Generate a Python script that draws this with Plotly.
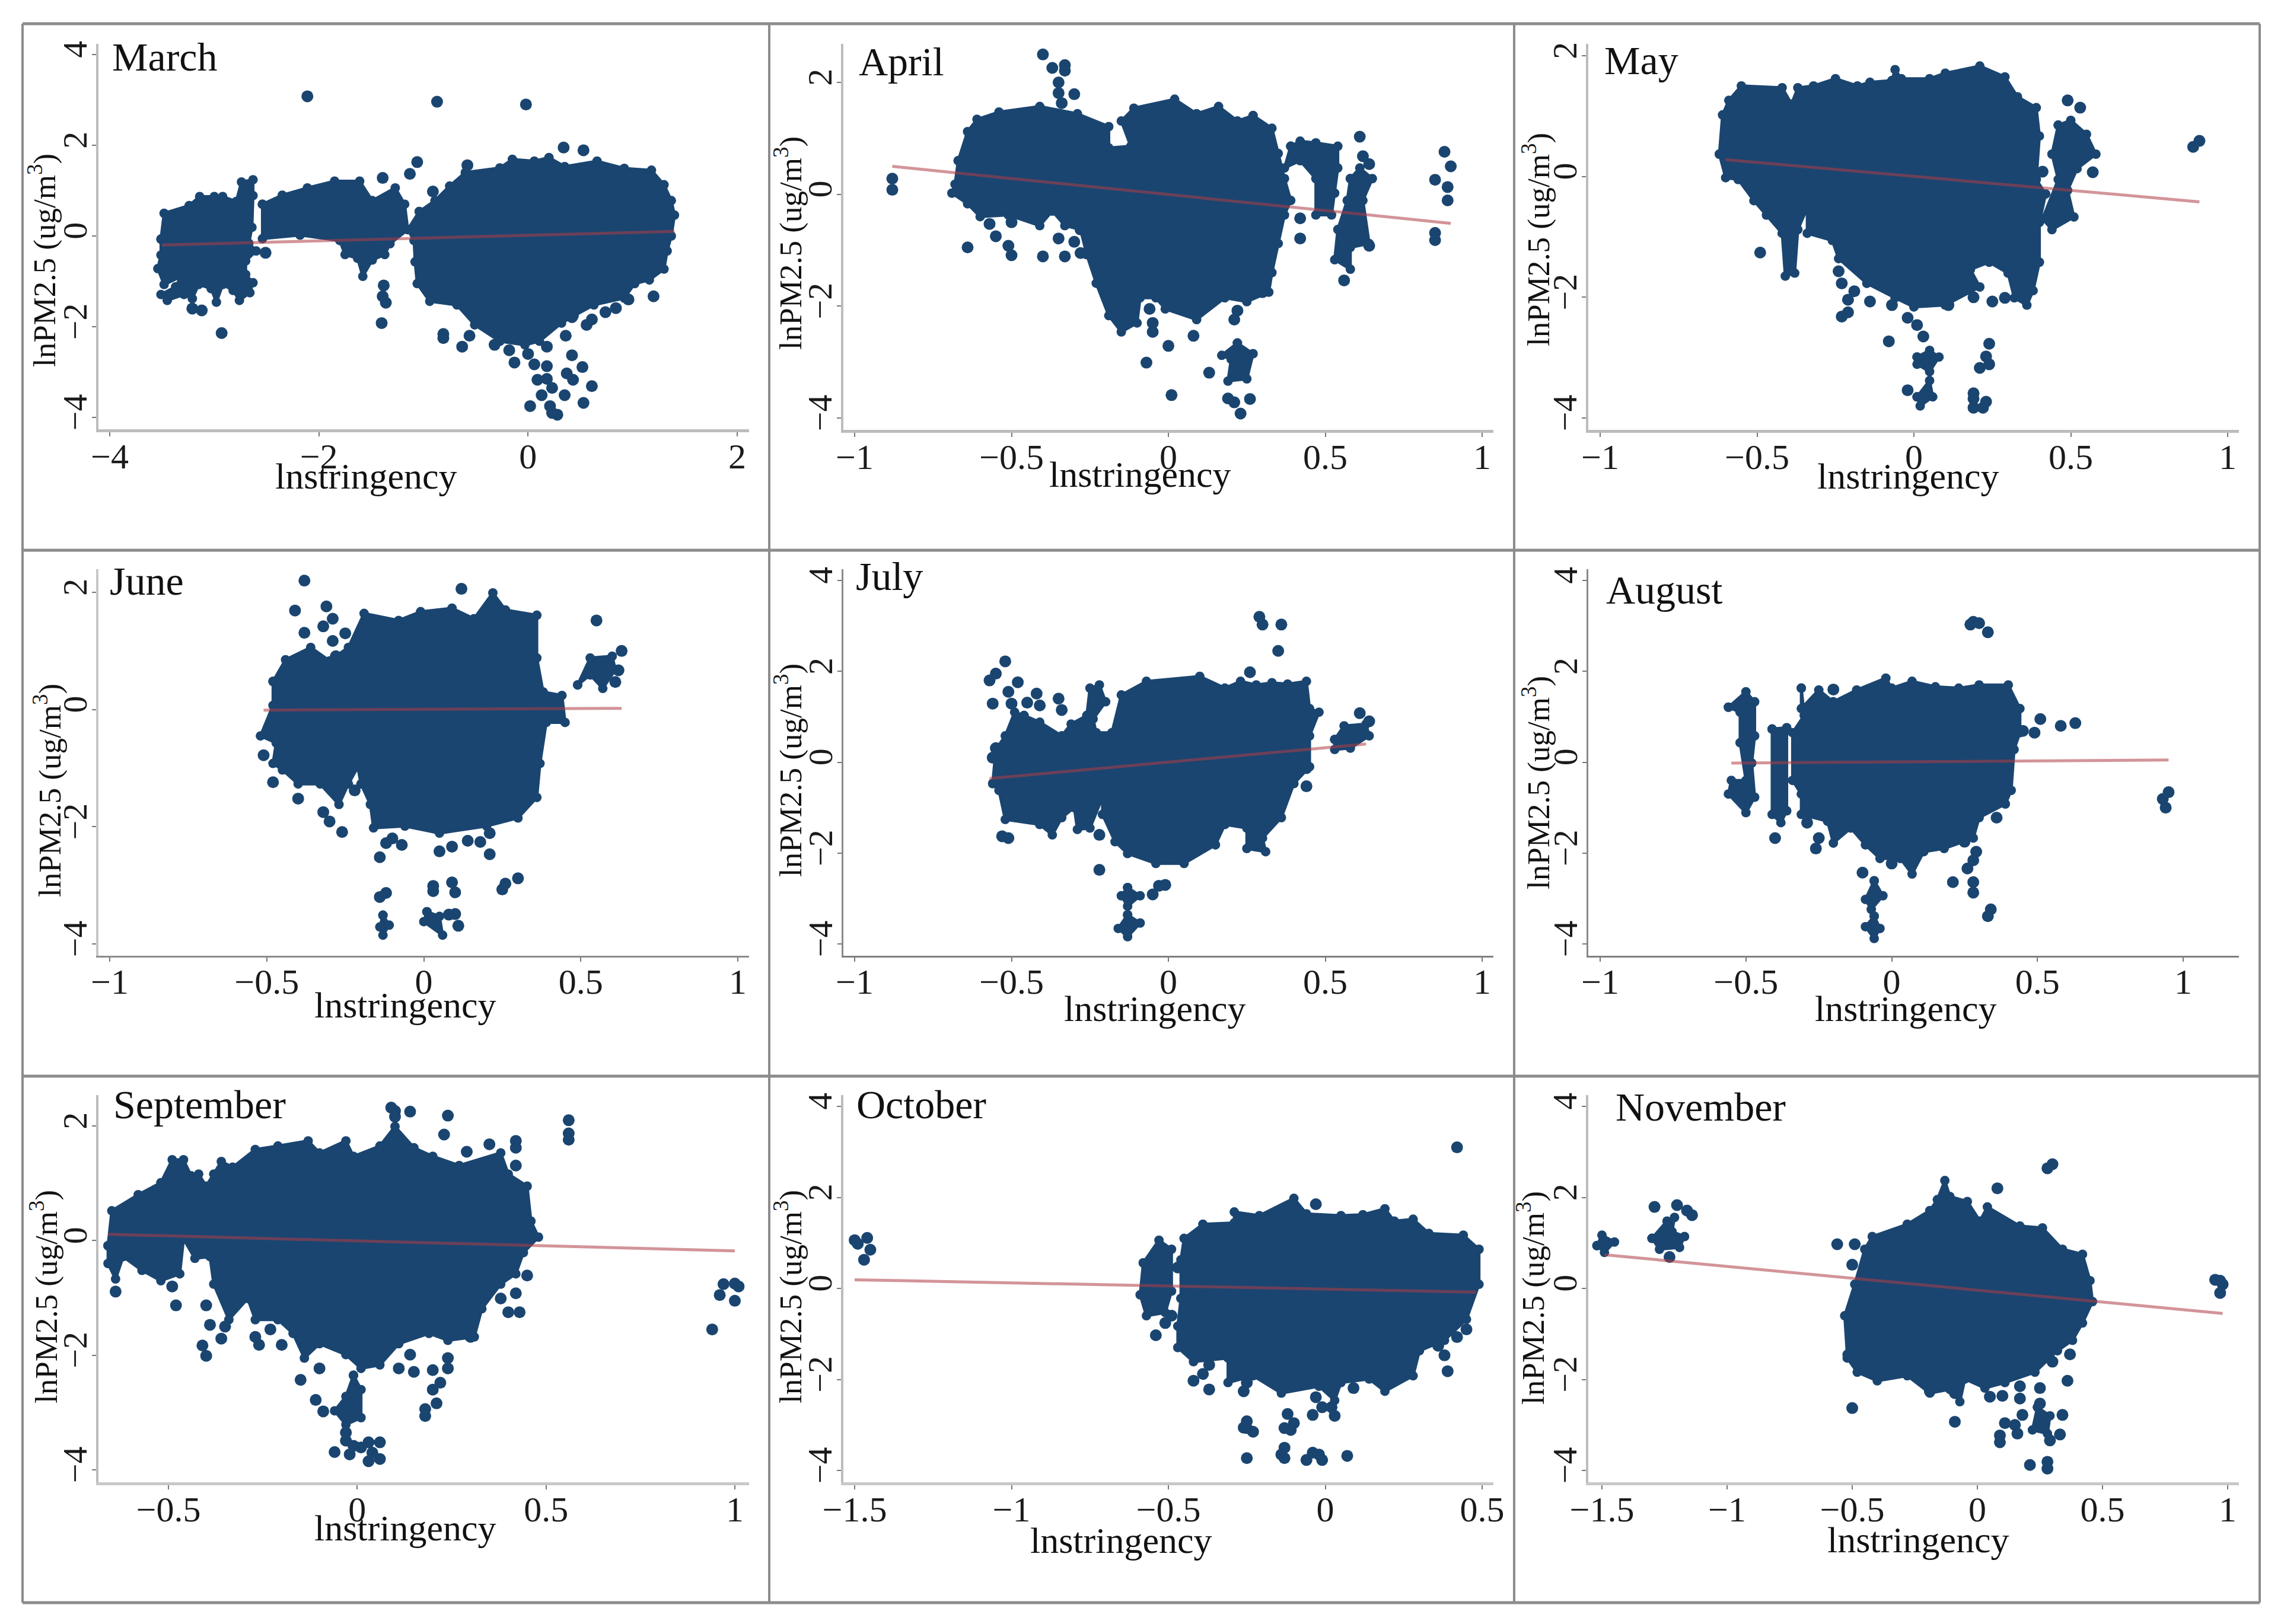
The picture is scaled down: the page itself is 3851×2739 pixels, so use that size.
import plotly.graph_objects as go

W, H = 3851, 2739
MONTHS = ["March", "April", "May", "June", "July", "August", "September", "October", "November"]
X_TITLE = "lnstringency"
Y_TITLE = "lnPM2.5 (ug/m<sup>3</sup>)"

x_ticks_march = [-4, -2, 0, 2]
x_ticks_wide = [-1, -0.5, 0, 0.5, 1]
x_ticks_sept = [-0.5, 0, 0.5, 1]
x_ticks_oct = [-1.5, -1, -0.5, 0, 0.5]
x_ticks_nov = [-1.5, -1, -0.5, 0, 0.5, 1]
y_ticks_full = [-4, -2, 0, 2, 4]
y_ticks_short = [-4, -2, 0, 2]

# ---- values: dense regions as outlines, sparse points as dots, fit line ends
march_lobes = [
    [(-1.04,.54),(-.89,.78),(-.75,1.1),(-.6,1.4),(-.27,1.5),(-.15,1.69),(.06,1.65),(.2,1.73),(.35,1.53),(.66,1.65),(.92,1.49),(1.18,1.45),(1.3,1.13),(1.37,.78),(1.4,.46),(1.37,0),(1.33,-.33),(1.3,-.73),(1.16,-.97),(1.02,-1.05),(.92,-1.37),(.63,-1.52),(.44,-1.76),(.32,-1.92),(.11,-2.32),(-.03,-2.4),(-.27,-2.32),(-.51,-1.96),(-.68,-1.52),(-.94,-1.44),(-1.06,-1.05),(-1.08,-.57),(-1.09,-.1),(-1.15,.14)],
    [(-3.51,-.07),(-3.48,.5),(-3.24,.67),(-3.14,.87),(-3.0,.87),(-2.92,.87),(-2.79,.76),(-2.74,1.19),(-2.63,1.24),(-2.63,.89),(-2.64,.19),(-2.67,-.16),(-2.6,-.33),(-2.7,-.55),(-2.7,-.85),(-2.63,-1.03),(-2.66,-1.25),(-2.76,-1.42),(-2.82,-1.2),(-2.92,-1.07),(-2.98,-1.46),(-3.03,-1.16),(-3.15,-1.07),(-3.21,-1.38),(-3.29,-1.29),(-3.45,-1.42),(-3.51,-1.29),(-3.37,-1.12),(-3.32,-.9),(-3.48,-1.07),(-3.54,-.72),(-3.51,-.42)],
    [(-2.54,.7),(-2.35,.9),(-2.11,1.06),(-1.85,1.21),(-1.61,1.21),(-1.49,.78),(-1.27,1.06),(-1.18,.7),(-1.15,.14),(-1.32,-.17),(-1.37,-.41),(-1.49,-.53),(-1.58,-.89),(-1.63,-.49),(-1.75,-.41),(-1.8,-.1),(-2.18,.02),(-2.54,-.06)],
]
march_dots = [(-2.11,3.08),(-.87,2.96),(-.02,2.9),(.34,1.95),(.53,1.89),(-1.06,1.63),(-1.13,1.37),(-.91,.98),(-.58,1.56),(-1.39,1.28),(-2.51,-.37),(-2.93,-2.14),(-3.21,-1.6),(-3.12,-1.64),(-1.4,-1.92),(-1.38,-1.09),(-1.36,-1.47),(-1.39,-1.33),(-.81,-2.16),(-.81,-2.25),(-.63,-2.44),(-.13,-2.79),(.02,-3.75),(.53,-3.68),(.61,-3.31),(.35,-3.51),(.28,-3.94),(.23,-3.35),(.09,-3.17),(.18,-3.15),(.13,-3.51),(.21,-3.75),(.23,-3.9),(.18,-2.87),(.06,-2.83),(0,-2.6),(.42,-2.63),(.52,-2.89),(.37,-3.03),(.43,-3.17),(1.2,-1.33),(.96,-1.4),(.74,-1.68),(.84,-1.59),(.42,-1.79),(.56,-1.96),(.61,-1.84),(.36,-2.2),(.18,-2.44),(-.18,-2.52),(-.32,-2.4),(-.56,-2.2)]
march_fit = [(-3.5,-.2),(1.4,.1)]

april_lobes = [
    [(-.67,.6),(-.64,1.12),(-.61,1.34),(-.54,1.47),(-.41,1.57),(-.29,1.44),(-.19,1.21),(-.19,.83),(-.12,.86),(-.15,1.31),(-.11,1.54),(.02,1.7),(.09,1.44),(.16,1.57),(.22,1.31),(.27,1.41),(.33,1.18),(.35,.73),(.37,.28),(.39,-.11),(.37,-.37),(.35,-.88),(.33,-1.4),(.32,-1.75),(.25,-1.92),(.18,-1.85),(.09,-2.24),(-.01,-2.05),(-.04,-1.85),(-.09,-1.85),(-.1,-2.3),(-.15,-2.46),(-.19,-2.17),(-.23,-1.59),(-.26,-1.08),(-.28,-.63),(-.33,-.56),(-.37,-.3),(-.41,-.56),(-.51,-.37),(-.6,-.4),(-.64,-.17),(-.69,.02),(-.68,.18)],
    [(.39,.86),(.42,.95),(.47,.92),(.54,.86),(.54,.47),(.53,.02),(.52,-.37),(.47,-.37),(.47,.28),(.42,.6),(.37,.47)],
    [(.58,.28),(.61,.47),(.65,.28),(.62,-.11),(.64,-.88),(.58,-.95),(.58,-1.34),(.53,-1.17),(.54,-.63),(.57,-.11)],
    [(.22,-2.66),(.27,-2.85),(.25,-3.3),(.19,-3.34),(.2,-2.95),(.17,-2.88)],
]
april_dots = [(-.88,.28),(-.88,.08),(-.4,2.5),(-.37,2.26),(-.33,2.31),(-.33,2.21),(-.35,2.0),(-.35,1.81),(-.3,1.79),(-.34,1.63),(-.57,-.53),(-.55,-.75),(-.51,-.92),(-.5,-1.09),(-.64,-.95),(-.4,-1.11),(-.33,-1.11),(-.35,-.79),(-.3,-.85),(-.28,-.63),(-.28,-1.05),(-.5,-.5),(-.06,-2.05),(-.05,-2.3),(-.05,-2.46),(.08,-2.53),(0,-2.71),(-.07,-3.01),(.01,-3.59),(.13,-3.19),(.19,-3.65),(.21,-3.72),(.23,-3.92),(.26,-3.66),(.22,-2.08),(.21,-2.24),(.42,-.43),(.42,-.79),(.61,1.03),(.62,.68),(.64,.54),(.88,.76),(.9,.5),(.85,.26),(.89,.13),(.89,-.11),(.85,-.69),(.85,-.82),(.64,-.92),(.56,-1.54),(.3,-1.75)]
april_fit = [(-.88,.5),(.9,-.52)]

may_lobes = [
    [(-.62,.37),(-.61,1.02),(-.59,1.26),(-.55,1.5),(-.42,1.47),(-.39,1.2),(-.37,1.47),(-.32,1.5),(-.25,1.62),(-.18,1.5),(-.14,1.56),(-.07,1.59),(-.06,1.77),(-.04,1.62),(.05,1.62),(.1,1.71),(.21,1.83),(.29,1.65),(.33,1.32),(.39,1.14),(.4,.67),(.39,-.05),(.42,-.29),(.4,-.76),(.4,-1.42),(.38,-1.89),(.36,-2.13),(.32,-2.01),(.3,-1.6),(.24,-1.42),(.18,-1.54),(.21,-1.83),(.1,-2.13),(0,-2.16),(-.06,-2.01),(-.15,-1.77),(-.24,-1.36),(-.26,-1.06),(-.34,-.94),(-.34,-.52),(-.37,-.88),(-.38,-1.6),(-.41,-1.65),(-.42,-.94),(-.47,-.64),(-.51,-.4),(-.56,-.05),(-.6,-.02)],
    [(.46,.85),(.5,.93),(.55,.7),(.58,.37),(.52,.13),(.49,-.23),(.51,-.67),(.44,-.88),(.41,-.7),(.46,-.05),(.44,.37)],
    [(.01,-2.99),(.05,-2.88),(.08,-2.99),(.05,-3.23),(.01,-3.11)],
    [(.01,-3.65),(.05,-3.38),(.06,-3.65),(.02,-3.8)],
]
may_dots = [(.49,1.26),(.53,1.14),(.41,.08),(.57,.07),(.91,.59),(.89,.49),(-.49,-1.26),(-.24,-1.57),(-.23,-1.77),(-.21,-2.04),(-.19,-1.9),(-.21,-2.25),(-.23,-2.32),(-.14,-2.07),(-.07,-2.13),(.11,-2.13),(.19,-2.0),(.25,-2.07),(.29,-2.01),(-.02,-2.34),(.01,-2.46),(.03,-2.65),(-.08,-2.73),(.24,-2.77),(.23,-2.98),(.24,-3.11),(.21,-3.17),(-.02,-3.54),(.19,-3.83),(.19,-3.59),(.22,-3.83),(.23,-3.73),(.19,-3.68)]
may_fit = [(-.6,.28),(.91,-.42)]

june_lobes = [
    [(-.48,.48),(-.44,.85),(-.36,1.06),(-.3,.83),(-.24,1.06),(-.19,1.64),(-.08,1.52),(-.01,1.67),(.09,1.73),(.16,1.55),(.22,1.99),(.26,1.7),(.36,1.61),(.36,.88),(.38,.3),(.44,.24),(.45,-.22),(.39,-.22),(.37,-.92),(.36,-1.5),(.3,-1.85),(.2,-1.99),(.05,-2.11),(-.06,-1.99),(-.16,-2.02),(-.17,-1.62),(-.2,-1.27),(-.21,-.98),(-.24,-1.27),(-.27,-1.62),(-.33,-1.27),(-.4,-1.27),(-.45,-1.03),(-.48,-.92),(-.47,-.57),(-.52,-.45),(-.48,.07)],
    [(.49,.42),(.53,.88),(.6,.91),(.61,.68),(.57,.36),(.53,.59)],
    [(-.13,-3.51),(-.11,-3.68),(-.13,-3.85),(-.14,-3.71)],
    [(.01,-3.45),(.05,-3.53),(.06,-3.85),(0,-3.62)],
]
june_dots = [(-.38,2.2),(-.41,1.69),(-.31,1.76),(-.32,1.42),(-.29,1.55),(-.38,1.31),(-.25,1.3),(-.29,1.17),(-.28,.91),(-.51,-.78),(-.48,-1.24),(-.4,-1.52),(-.22,-1.38),(-.32,-1.75),(-.3,-1.91),(-.26,-2.09),(-.12,-2.28),(-.1,-2.2),(-.07,-2.31),(-.14,-2.52),(.05,-2.42),(.09,-2.34),(.14,-2.24),(.18,-2.26),(.21,-2.11),(.21,-2.47),(.3,-2.88),(.25,-3.07),(.26,-2.97),(.03,-3.01),(.03,-3.1),(.09,-2.95),(.1,-3.12),(-.12,-3.13),(-.14,-3.2),(.12,2.06),(.55,1.52),(.63,1.0),(.61,.47),(.62,.67),(.1,-3.49),(.11,-3.69),(.08,-3.5)]
june_fit = [(-.51,-.01),(.63,.02)]

july_lobes = [
    [(-.56,-.47),(-.55,.28),(-.52,.58),(-.49,1.1),(-.46,1.03),(-.41,.88),(-.34,.58),(-.31,.84),(-.26,1.03),(-.25,1.63),(-.22,1.7),(-.2,1.33),(-.24,.95),(-.23,.65),(-.18,.65),(-.15,1.48),(-.07,1.78),(.1,1.89),(.18,1.63),(.23,1.78),(.28,1.7),(.33,1.75),(.38,1.72),(.44,1.78),(.45,1.18),(.48,1.1),(.45,.58),(.45,-.1),(.4,-.47),(.36,-1.22),(.3,-1.67),(.31,-1.97),(.25,-1.9),(.25,-1.45),(.18,-1.37),(.15,-1.82),(.05,-2.23),(-.04,-2.23),(-.13,-2.01),(-.17,-1.75),(-.21,-1.15),(-.21,-.77),(-.25,-1.45),(-.29,-1.48),(-.3,-1.0),(-.34,-1.22),(-.37,-1.6),(-.41,-1.37),(-.52,-1.26),(-.54,-.62)],
    [(.53,.5),(.56,.8),(.63,.84),(.64,.58),(.58,.31),(.53,.28)],
    [(-.13,-2.76),(-.09,-2.94),(-.13,-3.17),(-.15,-2.94)],
    [(-.13,-3.36),(-.09,-3.54),(-.13,-3.84),(-.16,-3.66)],
]
july_dots = [(-.52,2.22),(-.55,1.95),(-.57,1.8),(-.48,1.76),(-.51,1.55),(-.56,1.29),(-.5,1.29),(-.45,1.31),(-.42,1.51),(-.41,1.25),(-.35,1.4),(-.34,1.15),(-.55,.31),(-.56,.1),(-.53,-1.63),(-.51,-1.67),(.29,3.2),(.3,3.03),(.36,3.03),(.35,2.45),(.26,1.98),(-.22,-2.37),(.44,-.13),(.44,-.53),(-.22,-1.6),(-.01,-2.7),(-.05,-2.91),(-.03,-2.72),(.61,1.08),(.64,.9)]
july_fit = [(-.57,-.36),(.63,.4)]

august_lobes = [
    [(-.31,1.63),(-.31,1.18),(-.25,1.59),(-.2,1.33),(-.12,1.59),(-.02,1.85),(0,1.63),(.07,1.78),(.15,1.66),(.23,1.63),(.3,1.7),(.4,1.7),(.44,1.18),(.44,.65),(.42,.28),(.41,-.62),(.39,-.92),(.3,-1.22),(.28,-1.67),(.18,-1.9),(.11,-1.97),(.07,-2.46),(.03,-2.12),(-.04,-2.12),(-.09,-1.82),(-.14,-1.45),(-.2,-1.78),(-.22,-1.3),(-.31,-1.15),(-.31,-.7),(-.34,-.4),(-.34,.65),(-.3,1.03)],
    [(-.41,.73),(-.36,.76),(-.36,-1.07),(-.38,-1.33),(-.41,-1.15)],
    [(-.56,1.21),(-.5,1.55),(-.47,1.33),(-.47,.58),(-.48,-.02),(-.47,-.77),(-.5,-1.11),(-.56,-.7),(-.55,-.4),(-.5,-.4),(-.52,.43),(-.52,1.1)],
    [(-.06,-2.61),(-.03,-2.94),(-.07,-3.24),(-.09,-3.02)],
    [(-.06,-3.39),(-.04,-3.66),(-.06,-3.88),(-.09,-3.62)],
]
august_dots = [(.51,.95),(.49,.65),(.45,.69),(.58,.8),(.63,.86),(-.2,1.6),(-.4,-1.67),(-.29,-1.33),(-.25,-1.67),(-.26,-1.9),(.36,-1.22),(.25,-1.75),(.29,-1.97),(.28,-2.16),(.26,-2.34),(0,-2.23),(-.1,-2.43),(.21,-2.64),(.28,-2.64),(.28,-2.87),(.34,-3.24),(.33,-3.39),(.28,3.09),(.27,3.03),(.3,3.06),(.33,2.86),(.95,-.66),(.93,-.81),(.94,-1.0)]
august_fit = [(-.55,-.02),(.95,.05)]

september_lobes = [
    [(-.66,-.09),(-.65,.52),(-.58,.8),(-.52,1.01),(-.49,1.41),(-.46,1.41),(-.44,1.13),(-.42,1.16),(-.4,.95),(-.38,1.16),(-.36,1.38),(-.33,1.28),(-.27,1.59),(-.21,1.65),(-.13,1.74),(-.1,1.53),(-.03,1.74),(-.01,1.47),(.06,1.65),(.1,1.99),(.15,1.62),(.2,1.47),(.27,1.31),(.38,1.53),(.4,1.16),(.45,.95),(.46,.34),(.48,.06),(.44,-.21),(.42,-.58),(.38,-.76),(.33,-1.19),(.31,-1.68),(.24,-1.74),(.19,-1.62),(.11,-1.8),(.06,-2.17),(.01,-2.23),(-.03,-1.99),(-.1,-1.8),(-.14,-2.05),(-.17,-1.62),(-.21,-1.38),(-.27,-1.38),(-.29,-1.01),(-.34,-1.38),(-.38,-.76),(-.39,-.28),(-.43,-.31),(-.46,.03),(-.47,-.58),(-.52,-.7),(-.57,-.52),(-.62,-.28),(-.64,-.67),(-.66,-.4)],
    [(-.01,-2.35),(.01,-2.6),(.01,-3.09),(-.03,-3.21),(-.06,-2.97),(-.03,-2.72)],
]
september_dots = [(-.64,-.89),(-.48,-1.13),(-.49,-.8),(-.4,-1.13),(-.39,-1.47),(-.36,-1.71),(-.35,-1.5),(-.41,-1.83),(-.4,-2.01),(-.27,-1.68),(-.26,-1.82),(-.23,-1.55),(-.2,-1.82),(-.15,-2.43),(-.1,-2.23),(-.11,-2.78),(-.09,-2.98),(.1,2.26),(.14,2.25),(.1,2.16),(.09,2.32),(.24,2.18),(.23,1.85),(.29,1.55),(.35,1.68),(.42,1.74),(.42,1.62),(.42,1.31),(.56,2.1),(.56,1.87),(.56,1.76),(.45,-.61),(.38,-1.01),(.42,-.92),(.43,-1.25),(.4,-1.25),(.3,-1.68),(.11,-2.23),(.14,-1.99),(.15,-2.29),(.2,-2.26),(.24,-2.23),(.24,-2.05),(.22,-2.48),(.2,-2.6),(.21,-2.84),(.18,-3.06),(.18,-2.94),(.96,-.95),(.97,-.76),(1.0,-.75),(1.01,-.8),(1.0,-1.05),(.94,-1.55),(-.06,-3.69),(-.03,-3.35),(-.03,-3.49),(-.02,-3.73),(.03,-3.85),(.06,-3.81),(.03,-3.52),(.06,-3.52),(.01,-3.61),(.04,-3.7),(-.01,-3.58)]
september_fit = [(-.66,.11),(1.0,-.18)]

october_lobes = [
    [(-.46,-.22),(-.46,.63),(-.45,1.1),(-.39,1.41),(-.29,1.44),(-.29,1.68),(-.21,1.6),(-.1,1.98),(-.06,1.64),(.05,1.6),(.12,1.62),(.19,1.75),(.22,1.48),(.28,1.52),(.33,1.21),(.44,1.17),(.49,.86),(.49,.09),(.45,-.68),(.38,-1.14),(.3,-1.37),(.28,-1.92),(.19,-2.26),(.14,-1.99),(.05,-2.07),(.03,-2.46),(-.02,-2.15),(-.14,-2.3),(-.23,-1.92),(-.31,-2.07),(-.31,-1.53),(-.42,-1.61),(-.47,-1.3),(-.47,-.83)],
    [(-.58,.56),(-.53,1.06),(-.49,.86),(-.49,-.06),(-.51,-.53),(-.57,-.6),(-.59,-.14)],
]
october_dots = [(-1.5,1.06),(-1.49,.98),(-1.46,1.11),(-1.45,.85),(-1.47,.63),(-.47,.46),(-.49,-.6),(-.51,-.76),(-.54,-1.03),(-.42,-2.03),(-.39,-1.88),(-.37,-2.22),(-.37,-1.68),(-.25,-2.07),(-.26,-2.26),(-.03,1.85),(.42,3.1),(.36,-1.26),(.38,-1.47),(.39,-1.82),(.42,-1.07),(.45,-.9),(-.03,-2.39),(-.01,-2.61),(-.04,-2.78),(.02,-2.61),(.03,-2.8),(-.12,-2.76),(-.1,-2.96),(-.13,-3.07),(-.11,-3.11),(-.25,-2.92),(-.26,-3.06),(-.23,-3.15),(-.25,-3.07),(-.25,-3.73),(-.13,-3.5),(-.14,-3.65),(-.13,-3.73),(-.06,-3.77),(-.04,-3.61),(-.01,-3.77),(-.02,-3.65),(.07,-3.68),(.09,-2.19)]
october_fit = [(-1.5,.19),(.48,-.08)]

november_lobes = [
    [(-.52,-1.45),(-.53,-.6),(-.49,.09),(-.45,.86),(-.42,1.14),(-.28,1.41),(-.19,1.71),(-.16,1.95),(-.13,2.37),(-.11,2.02),(-.04,1.91),(.01,1.48),(.04,1.79),(.17,1.37),(.26,1.33),(.34,.86),(.42,.75),(.45,.17),(.46,-.29),(.42,-.76),(.38,-1.14),(.32,-1.37),(.23,-1.84),(.11,-2.07),(.03,-2.19),(-.05,-1.99),(-.07,-2.49),(-.11,-2.22),(-.19,-2.3),(-.28,-1.92),(-.4,-2.03),(-.48,-1.84),(-.52,-1.53)],
    [(-1.52,.94),(-1.5,1.17),(-1.45,1.02),(-1.49,.79)],
    [(-1.3,1.1),(-1.24,1.48),(-1.21,1.56),(-1.22,1.25),(-1.17,1.14),(-1.19,.9),(-1.27,.86)],
    [(.24,-2.61),(.29,-2.8),(.28,-3.19),(.22,-3.11)],
]
november_dots = [(-1.29,1.79),(-1.2,1.83),(-1.16,1.71),(-1.14,1.61),(-1.23,.69),(-.56,.97),(-.49,.97),(-.5,.52),(-.5,-2.63),(-.09,-2.93),(-.18,-2.07),(-.19,-2.26),(-.09,-2.3),(.08,2.2),(.28,2.64),(.3,2.73),(.36,-2.03),(.37,-1.45),(.3,-1.61),(.05,-2.38),(.1,-2.36),(.17,-2.15),(.17,-2.42),(.25,-2.19),(.25,-2.53),(.18,-2.78),(.34,-2.78),(.11,-2.96),(.09,-3.23),(.09,-3.38),(.15,-3.0),(.16,-3.19),(.29,-3.34),(.33,-3.21),(.21,-3.88),(.28,-3.81),(.28,-3.96),(.97,.17),(.98,.09),(.97,-.1),(.95,.19)]
november_fit = [(-1.49,.74),(.98,-.55)]

LOBES = [march_lobes, april_lobes, may_lobes, june_lobes, july_lobes, august_lobes, september_lobes, october_lobes, november_lobes]
DOTS = [march_dots, april_dots, may_dots, june_dots, july_dots, august_dots, september_dots, october_dots, november_dots]
FITS = [march_fit, april_fit, may_fit, june_fit, july_fit, august_fit, september_fit, october_fit, november_fit]
XTICKS = [x_ticks_march, x_ticks_wide, x_ticks_wide, x_ticks_wide, x_ticks_wide, x_ticks_wide, x_ticks_sept, x_ticks_oct, x_ticks_nov]
YTICKS = [y_ticks_full, y_ticks_short, y_ticks_short, y_ticks_short, y_ticks_full, y_ticks_full, y_ticks_short, y_ticks_full, y_ticks_full]

# ---- layout: pixel frames of each panel (left, right, top, bottom) and tick calibration
FRAMES = [
    (166, 1263, 74, 724, -4, 185, 2, 1243, 4, 92, -4, 704),
    (1422, 2518, 74, 725, -1, 1441, 1, 2499, 2, 139, -4, 705),
    (2678, 3775, 74, 725, -1, 2698, 1, 3756, 2, 94, -4, 705),
    (166, 1263, 960, 1612, -1, 185, 1, 1244, 2, 999, -4, 1592),
    (1422, 2518, 960, 1612, -1, 1441, 1, 2499, 4, 979, -4, 1592),
    (2678, 3775, 960, 1612, -1, 2698, 1, 3681, 4, 979, -4, 1592),
    (166, 1263, 1847, 2500, -0.5, 284, 1, 1239, 2, 1899, -4, 2479),
    (1422, 2518, 1847, 2500, -1.5, 1441, 0.5, 2499, 4, 1866, -4, 2480),
    (2678, 3775, 1847, 2500, -1.5, 2701, 1, 3756, 4, 1866, -4, 2480),
]
MONTH_POS = [(187, 96), (1446, 104), (2703, 102), (183, 980), (1441, 972), (2706, 995), (189, 1863), (1442, 1863), (2722, 1867)]
XTITLE_POS = [(617, 803), (1922, 800), (3217, 803), (683, 1695), (1948, 1701), (3213, 1701), (683, 2577), (1890, 2598), (3234, 2597)]
YTITLE_POS = [(71, 439), (1329, 410), (2590, 404), (80, 1333), (1329, 1299), (2590, 1320), (74, 2187), (1329, 2187), (2581, 2189)]
AXIS_STYLE = [("#bcbcbc", 5, "#bcbcbc", 4)] * 3 + [("#8a8a8a", 3, "#c8c8c8", 4), ("#7f7f7f", 3, "#8a8a8a", 3), ("#7f7f7f", 3, "#8a8a8a", 3)] + [("#c8c8c8", 5, "#bcbcbc", 4)] * 3

BLUE = "#1a4570"
RED = "rgba(175,60,70,0.55)"
SERIF = "Liberation Serif"

fig = go.Figure()
layout = {}
annotations = []
for i in range(9):
    sfx = "" if i == 0 else str(i + 1)
    xref, yref = "x" + sfx, "y" + sfx
    l, r, t, b, xa, xpa, xb, xpb, ya, ypa, yb, ypb = FRAMES[i]
    sx = (xb - xa) / (xpb - xpa)
    sy = (yb - ya) / (ypb - ypa)
    xcol, xw, ycol, yw = AXIS_STYLE[i]
    layout["xaxis" + sfx] = dict(
        domain=[l / W, r / W], range=[xa + (l - xpa) * sx, xa + (r - xpa) * sx], anchor=yref,
        tickmode="array", tickvals=XTICKS[i], ticks="outside", ticklen=7, tickwidth=2, tickcolor="#777777",
        showline=True, linecolor=xcol, linewidth=xw, showgrid=False, zeroline=False, ticklabelstandoff=-18,
        tickfont=dict(family=SERIF, size=60, color="#1a1a1a"))
    layout["yaxis" + sfx] = dict(
        domain=[1 - b / H, 1 - t / H], range=[ya + (b - ypa) * sy, ya + (t - ypa) * sy], anchor=xref,
        tickmode="array", tickvals=YTICKS[i], ticks="outside", ticklen=7, tickwidth=2, tickcolor="#777777",
        showline=True, linecolor=ycol, linewidth=yw, showgrid=False, zeroline=False, tickangle=-90, ticklabelstandoff=-14,
        tickfont=dict(family=SERIF, size=58, color="#1a1a1a"))

    xs, ys = [], []
    for lobe in LOBES[i]:
        closed = lobe + [lobe[0]]
        xs += [p[0] for p in closed] + [None]
        ys += [p[1] for p in closed] + [None]
    fig.add_trace(go.Scatter(x=xs, y=ys, xaxis=xref, yaxis=yref, mode="lines+markers", fill="toself",
                             fillcolor=BLUE, line=dict(color=BLUE, width=5), marker=dict(color=BLUE, size=16),
                             showlegend=False, hoverinfo="skip"))
    fig.add_trace(go.Scatter(x=[p[0] for p in DOTS[i]], y=[p[1] for p in DOTS[i]], xaxis=xref, yaxis=yref,
                             mode="markers", marker=dict(color=BLUE, size=20), showlegend=False))
    fig.add_trace(go.Scatter(x=[p[0] for p in FITS[i]], y=[p[1] for p in FITS[i]], xaxis=xref, yaxis=yref,
                             mode="lines", line=dict(color=RED, width=5), showlegend=False))

    mx, my = MONTH_POS[i]
    annotations.append(dict(text=MONTHS[i], x=mx / W, y=1 - my / H, xref="paper", yref="paper", xanchor="left",
                            yanchor="middle", showarrow=False, font=dict(family=SERIF, size=68, color="#111111")))
    tx, ty = XTITLE_POS[i]
    annotations.append(dict(text=X_TITLE, x=tx / W, y=1 - ty / H, xref="paper", yref="paper", xanchor="center",
                            yanchor="middle", showarrow=False, font=dict(family=SERIF, size=62, color="#111111")))
    tx, ty = YTITLE_POS[i]
    annotations.append(dict(text=Y_TITLE, x=tx / W, y=1 - ty / H, xref="paper", yref="paper", xanchor="center",
                            yanchor="middle", textangle=-90, showarrow=False,
                            font=dict(family=SERIF, size=53, color="#111111")))

# panel frame
VERT = [38, 1297, 2553, 3810]
HORZ = [40, 928, 1815, 2703]
shapes = []
for v in VERT:
    shapes.append(dict(type="line", xref="paper", yref="paper", x0=v / W, x1=v / W, y0=1 - HORZ[0] / H, y1=1 - HORZ[-1] / H,
                       line=dict(color="#8c8c8c", width=4)))
for h in HORZ:
    shapes.append(dict(type="line", xref="paper", yref="paper", x0=VERT[0] / W, x1=VERT[-1] / W, y0=1 - h / H, y1=1 - h / H,
                       line=dict(color="#8c8c8c", width=5)))

fig.update_layout(width=W, height=H, margin=dict(l=0, r=0, t=0, b=0, autoexpand=False), paper_bgcolor="white", plot_bgcolor="white",
                  showlegend=False, annotations=annotations, shapes=shapes, **layout)
fig.write_html("out.html", config={"displayModeBar": False},
               post_script="document.body.style.margin='0';document.documentElement.style.overflow='hidden';")
